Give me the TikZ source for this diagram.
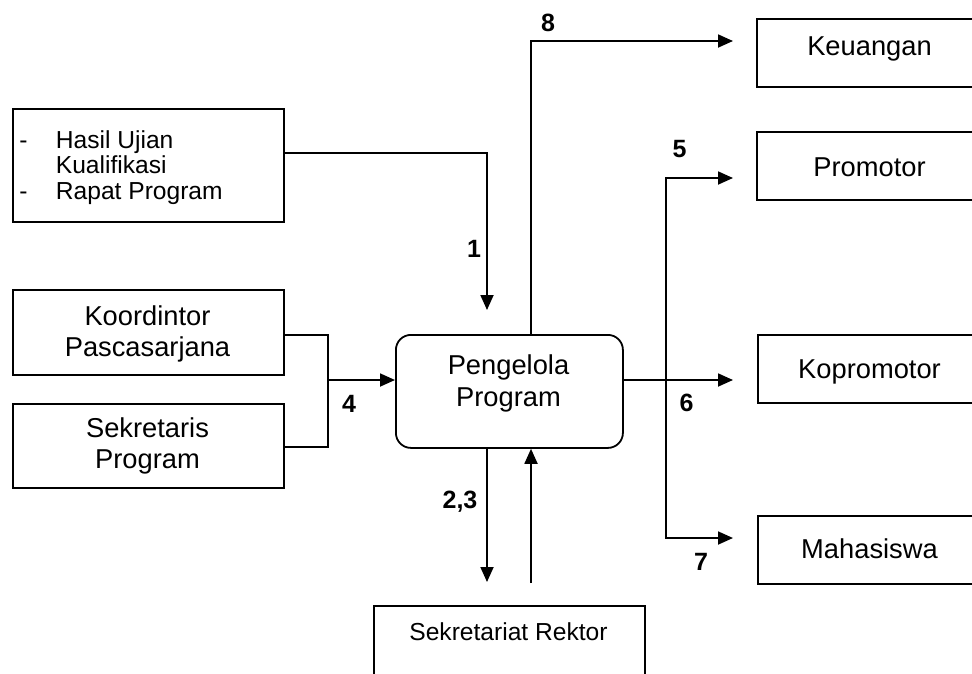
\documentclass[tikz,border=0pt]{standalone}
\usepackage{fontspec}
\setmainfont{Liberation Sans}
\usetikzlibrary{arrows.meta,calc}
\begin{document}
\begin{tikzpicture}[x=1pt,y=-1pt, line width=1.8pt,
 box/.style={draw, rectangle, inner sep=0pt, anchor=north west},
 big/.style={font=\fontsize{27.3}{31}\selectfont, inner sep=0pt, anchor=base},
 small/.style={font=\fontsize{24.6}{28}\selectfont, inner sep=0pt, anchor=base},
 smallw/.style={small, anchor=base west},
 lbl/.style={font=\fontsize{25}{28}\selectfont\bfseries, inner sep=0pt, anchor=base},
 arr/.style={-{Triangle[length=15pt,width=13pt]}}]
\useasboundingbox (0,0) rectangle (972,673);
\clip (0,0) rectangle (972,673);
% boxes
\node[box, minimum width=271pt, minimum height=113pt] (hasil) at (12,108) {};
\node[box, minimum width=271pt, minimum height=85pt] (koord) at (12,289) {};
\node[box, minimum width=271pt, minimum height=84pt] (sekr) at (12,403) {};
\node[box, rounded corners=15pt, minimum width=227pt, minimum height=113pt] (peng) at (395,334) {};
\node[box, minimum width=260pt, minimum height=68pt] (keu) at (756,18) {};
\node[box, minimum width=260pt, minimum height=68pt] (prom) at (756,131) {};
\node[box, minimum width=260pt, minimum height=68pt] (kopro) at (757,334) {};
\node[box, minimum width=260pt, minimum height=68pt] (maha) at (757,515) {};
\node[box, minimum width=271pt, minimum height=100pt] (rektor) at (373,605) {};
% texts
\node[small] (d1) at (23.5,148) {-};
\node[smallw] (t1) at (55,148) {Hasil Ujian};
\node[smallw] (t2) at (55,173) {Kualifikasi};
\node[small] (d2) at (23.5,199) {-};
\node[smallw] (t3) at (55,199) {Rapat Program};
\node[big] (tk1) at (147.5,325) {Koordintor};
\node[big] (tk2) at (147.5,356) {Pascasarjana};
\node[big] (ts1) at (147.5,437) {Sekretaris};
\node[big] (ts2) at (147.5,468) {Program};
\node[big] (tp1) at (508.5,374) {Pengelola};
\node[big] (tp2) at (508.5,406) {Program};
\node[big] (tkeu) at (869.5,55) {Keuangan};
\node[big] (tprom) at (869.5,176) {Promotor};
\node[big] (tkop) at (869.5,378) {Kopromotor};
\node[big] (tmah) at (869.5,558) {Mahasiswa};
\node[small] (trek) at (508.5,640) {Sekretariat Rektor};
% labels
\node[lbl] (l1) at (474,257) {1};
\node[lbl] (l4) at (349,412) {4};
\node[lbl] (l23) at (460,508) {2,3};
\node[lbl] (l8) at (548,31.5) {8};
\node[lbl] (l5) at (679.5,157) {5};
\node[lbl] (l6) at (686.5,411.5) {6};
\node[lbl] (l7) at (701,570) {7};
% connectors
\coordinate (j4) at (328,380);
\coordinate (j57) at (666,380);
\draw[arr, shorten >=24pt] (hasil.east |- 0,153) -| (peng.north -| 487,0);
\draw (koord.east |- 0,335) -| (j4) |- (sekr.east |- 0,447);
\draw[arr] (j4) -- (peng.west |- j4);
\draw[arr, shorten >=23pt] (peng.north -| 531,0) |- (keu.west |- 0,41);
\draw[arr, shorten >=24pt] (peng.east |- j4) -- (kopro.west |- j4);
\draw[arr, shorten >=23pt] (j57) |- (prom.west |- 0,178);
\draw[arr, shorten >=24pt] (j57) |- (maha.west |- 0,538);
\draw[arr, shorten >=23pt] (peng.south -| 487,0) -- (rektor.north -| 487,0);
\draw[arr, shorten <=22pt] (rektor.north -| 531,0) -- (peng.south -| 531,0);
\end{tikzpicture}
\end{document}
